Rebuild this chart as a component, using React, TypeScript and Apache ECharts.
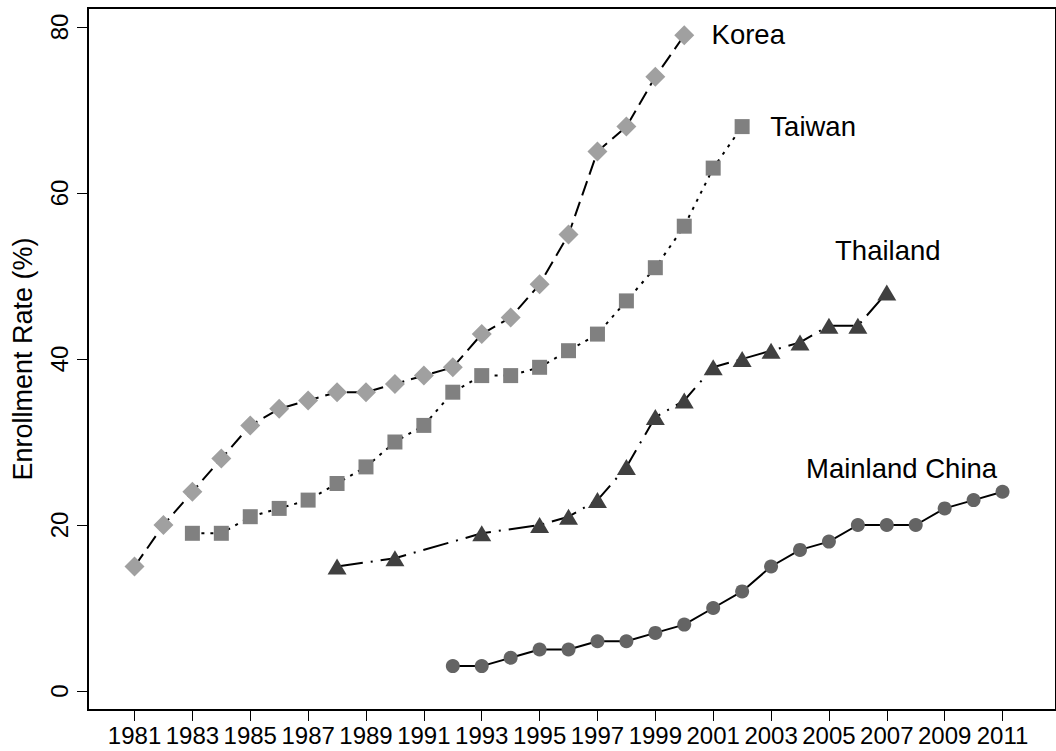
import React, { useEffect, useRef } from "react";
import * as echarts from "echarts";

const koreaYears = [1981, 1982, 1983, 1984, 1985, 1986, 1987, 1988, 1989, 1990, 1991, 1992, 1993, 1994, 1995, 1996, 1997, 1998, 1999, 2000];
const koreaValues = [15, 20, 24, 28, 32, 34, 35, 36, 36, 37, 38, 39, 43, 45, 49, 55, 65, 68, 74, 79];

const taiwanYears = [1983, 1984, 1985, 1986, 1987, 1988, 1989, 1990, 1991, 1992, 1993, 1994, 1995, 1996, 1997, 1998, 1999, 2000, 2001, 2002];
const taiwanValues = [19, 19, 21, 22, 23, 25, 27, 30, 32, 36, 38, 38, 39, 41, 43, 47, 51, 56, 63, 68];

const thailandYears = [1988, 1990, 1993, 1995, 1996, 1997, 1998, 1999, 2000, 2001, 2002, 2003, 2004, 2005, 2006, 2007];
const thailandValues = [15, 16, 19, 20, 21, 23, 27, 33, 35, 39, 40, 41, 42, 44, 44, 48];

const chinaYears = [1992, 1993, 1994, 1995, 1996, 1997, 1998, 1999, 2000, 2001, 2002, 2003, 2004, 2005, 2006, 2007, 2008, 2009, 2010, 2011];
const chinaValues = [3, 3, 4, 5, 5, 6, 6, 7, 8, 10, 12, 15, 17, 18, 20, 20, 20, 22, 23, 24];

const xTickYears = [1981, 1983, 1985, 1987, 1989, 1991, 1993, 1995, 1997, 1999, 2001, 2003, 2005, 2007, 2009, 2011];
const yTickValues = [0, 20, 40, 60, 80];

const FONT = '"Liberation Sans", Arial, Helvetica, sans-serif';
const NARROW = '"Liberation Sans Narrow", "Arial Narrow", "Liberation Sans", Arial, sans-serif';

function buildData(years: number[], values: number[], name: string, offset: number[]) {
  return years.map((y, i) => {
    const item: any = { value: [y, values[i]] };
    if (i === years.length - 1) {
      item.label = {
        show: true,
        position: "inside",
        offset,
        formatter: name,
        color: "#000",
        fontSize: 27.5,
        fontFamily: FONT,
        align: "center",
        verticalAlign: "middle",
      };
    }
    return item;
  });
}

export default function App() {
  const ref = useRef<HTMLDivElement>(null);
  useEffect(() => {
    if (!ref.current) return;
    const chart = echarts.init(ref.current, undefined, { renderer: "svg" });
    const lineBase = { color: "#000", width: 2 };
    chart.setOption({
      animation: false,
      backgroundColor: "#fff",
      textStyle: { fontFamily: FONT },
      grid: {
        left: 88,
        top: 8,
        right: -10,
        bottom: 41,
        show: true,
        borderColor: "#000",
        borderWidth: 2,
        backgroundColor: "transparent",
      },
      xAxis: {
        type: "value",
        min: 1979.392,
        max: 2012.848,
        splitLine: { show: false },
        axisLine: { show: true, onZero: false, lineStyle: { color: "#000", width: 2 } },
        axisTick: {
          show: true,
          length: 11,
          customValues: xTickYears,
          lineStyle: { color: "#000", width: 1 },
        },
        axisLabel: {
          customValues: xTickYears,
          margin: 13,
          color: "#000",
          fontSize: 24,
          fontFamily: NARROW,
          formatter: (v: number) => String(v),
        },
      },
      yAxis: {
        type: "value",
        min: -2.289,
        max: 82.289,
        name: "Enrollment Rate (%)",
        nameLocation: "middle",
        nameGap: 52,
        nameTextStyle: { color: "#000", fontSize: 27, fontFamily: NARROW },
        splitLine: { show: false },
        axisLine: { show: true, onZero: false, lineStyle: { color: "#000", width: 2 } },
        axisTick: {
          show: true,
          length: 11,
          customValues: yTickValues,
          lineStyle: { color: "#000", width: 1 },
        },
        axisLabel: {
          customValues: yTickValues,
          rotate: 90,
          margin: 17,
          color: "#000",
          fontSize: 24,
          fontFamily: NARROW,
        },
      },
      series: [
        {
          name: "Korea",
          type: "line",
          data: buildData(koreaYears, koreaValues, "Korea", [64, -1]),
          symbol: "diamond",
          symbolSize: 20,
          itemStyle: { color: "#a0a0a0" },
          lineStyle: { ...lineBase, type: [15, 7] },
        },
        {
          name: "Taiwan",
          type: "line",
          data: buildData(taiwanYears, taiwanValues, "Taiwan", [71, 0]),
          symbol: "rect",
          symbolSize: 15,
          itemStyle: { color: "#808080" },
          lineStyle: { ...lineBase, type: [3, 6] },
        },
        {
          name: "Thailand",
          type: "line",
          data: buildData(thailandYears, thailandValues, "Thailand", [1, -42]),
          symbol: "triangle",
          symbolSize: [19, 16],
          itemStyle: { color: "#404040" },
          lineStyle: { ...lineBase, type: [26, 8, 2, 8] },
        },
        {
          name: "Mainland China",
          type: "line",
          data: buildData(chinaYears, chinaValues, "Mainland China", [-101, -23]),
          symbol: "circle",
          symbolSize: 14,
          itemStyle: { color: "#646464" },
          lineStyle: { ...lineBase, type: "solid" },
        },
      ],
    });
    return () => chart.dispose();
  }, []);
  return (
    <div
      ref={ref}
      style={{ position: "fixed", left: 0, top: 0, width: 1056, height: 751, background: "#fff" }}
    />
  );
}
